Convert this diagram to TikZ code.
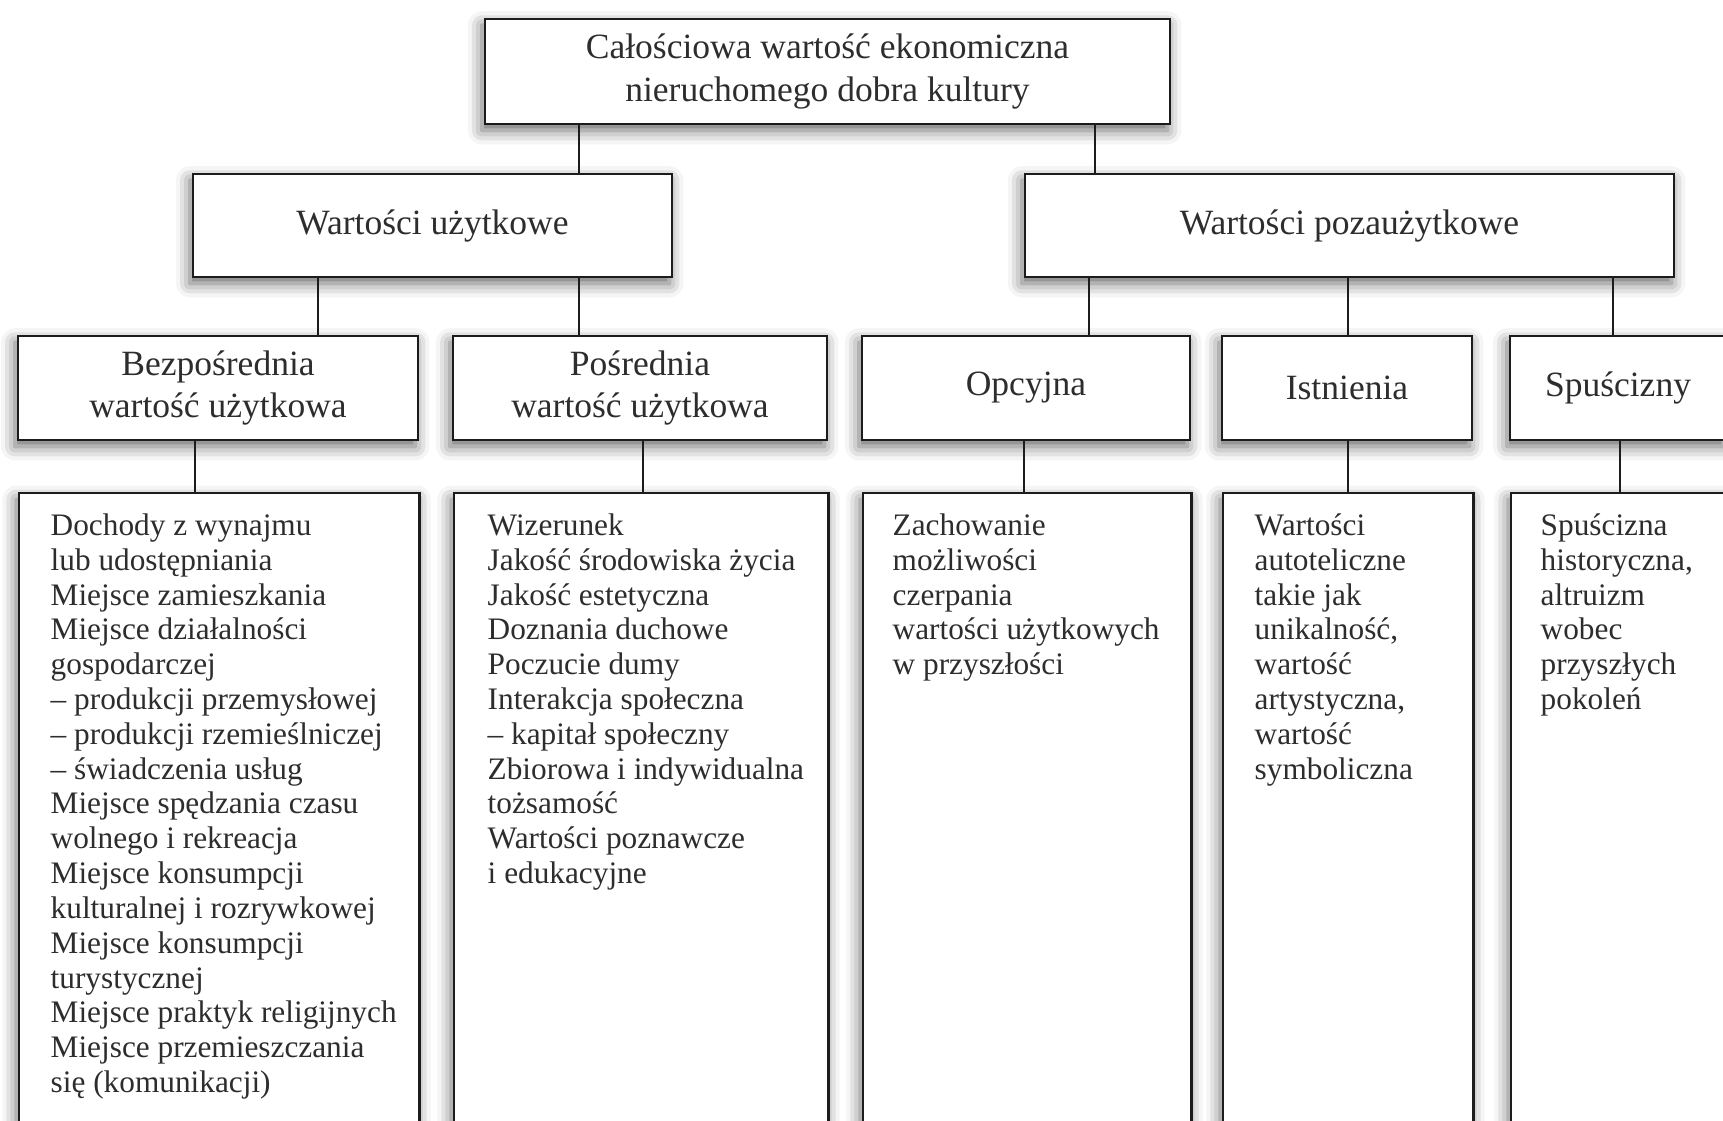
\documentclass[tikz,border=0pt]{standalone}
\usepackage{fontspec}
\setmainfont{Liberation Serif}
\usetikzlibrary{positioning,shadows.blur}
\definecolor{boxline}{RGB}{28,28,28}
\definecolor{boxtext}{RGB}{45,45,45}
\newcommand{\headfont}{\fontsize{10.1}{12}\selectfont}
\newcommand{\listfont}{\fontsize{8.9}{9.9}\selectfont}

\begin{document}
\begin{tikzpicture}[x=0.01cm,y=-0.01cm,
  valbox/.style={draw=boxline,line width=0.7pt,fill=white,text=boxtext,font=\headfont,
    align=center,inner sep=0pt,
    blur shadow={shadow xshift=-0.8pt,shadow yshift=-1.8pt,shadow blur radius=4pt,shadow opacity=60}},
  listbox/.style={valbox,anchor=north west,minimum height=6.8cm},
  listtext/.style={anchor=north west,align=left,inner sep=0pt,text=boxtext,font=\listfont},
  conn/.style={draw=boxline,line width=0.8pt}]
\useasboundingbox (0,0) rectangle (1723,1121);
\clip (0,0) rectangle (1723,1121);
% top
\node[valbox,minimum width=6.85cm,minimum height=1.05cm] (total) at (827.5,71.5)
  {Całościowa wartość ekonomiczna\\nieruchomego dobra kultury};
% second row
\node[valbox,minimum width=4.79cm,minimum height=1.03cm] (use) at (432.5,225.5) {Wartości użytkowe};
\node[valbox,minimum width=6.49cm,minimum height=1.03cm] (nonuse) at (1349.5,225.5) {Wartości pozaużytkowe};
% third row
\node[valbox,minimum width=4cm,minimum height=1.04cm] (direct) at (218,388) {Bezpośrednia\\wartość użytkowa};
\node[valbox,minimum width=3.74cm,minimum height=1.04cm] (indirect) at (640,388) {Pośrednia\\wartość użytkowa};
\node[valbox,minimum width=3.28cm,minimum height=1.04cm] (option) at (1026,388) {Opcyjna};
\node[valbox,minimum width=2.5cm,minimum height=1.04cm] (exist) at (1347,388) {Istnienia};
\node[valbox,minimum width=2.16cm,minimum height=1.04cm] (legacy) at (1618,388) {Spuścizny};
% lists
\node[listbox,minimum width=4cm] (directbox) at (18,492) {};
\node[listbox,minimum width=3.74cm] (indirectbox) at (453,492) {};
\node[listbox,minimum width=3.28cm] (optionbox) at (862,492) {};
\node[listbox,minimum width=2.5cm] (existbox) at (1222,492) {};
\node[listbox,minimum width=2.16cm] (legacybox) at (1510,492) {};
\node[listtext] (directlist) at ([xshift=0.32cm,yshift=-0.21cm]directbox.north west)
  {Dochody z wynajmu\\lub udostępniania\\Miejsce zamieszkania\\Miejsce działalności\\gospodarczej\\
   – produkcji przemysłowej\\– produkcji rzemieślniczej\\– świadczenia usług\\
   Miejsce spędzania czasu\\wolnego i rekreacja\\Miejsce konsumpcji\\kulturalnej i rozrywkowej\\
   Miejsce konsumpcji\\turystycznej\\Miejsce praktyk religijnych\\Miejsce przemieszczania\\się (komunikacji)};
\node[listtext] (indirectlist) at ([xshift=0.34cm,yshift=-0.21cm]indirectbox.north west)
  {Wizerunek\\Jakość środowiska życia\\Jakość estetyczna\\Doznania duchowe\\Poczucie dumy\\
   Interakcja społeczna\\– kapitał społeczny\\Zbiorowa i indywidualna\\tożsamość\\
   Wartości poznawcze\\i edukacyjne};
\node[listtext] (optionlist) at ([xshift=0.3cm,yshift=-0.21cm]optionbox.north west)
  {Zachowanie\\możliwości\\czerpania\\wartości użytkowych\\w przyszłości};
\node[listtext] (existlist) at ([xshift=0.32cm,yshift=-0.21cm]existbox.north west)
  {Wartości\\autoteliczne\\takie jak\\unikalność,\\wartość\\artystyczna,\\wartość\\symboliczna};
\node[listtext] (legacylist) at ([xshift=0.3cm,yshift=-0.21cm]legacybox.north west)
  {Spuścizna\\historyczna,\\altruizm\\wobec\\przyszłych\\pokoleń};
% connectors
\foreach \a/\b/\x in {total/use/579,total/nonuse/1095,
    use/direct/318,use/indirect/579,nonuse/option/1089,nonuse/exist/1348,nonuse/legacy/1613,
    direct/directbox/195,indirect/indirectbox/643,option/optionbox/1024,exist/existbox/1348,legacy/legacybox/1620}
  \draw[conn] (\a.south -| \x,0) -- (\b.north -| \x,0);
\end{tikzpicture}
\end{document}
